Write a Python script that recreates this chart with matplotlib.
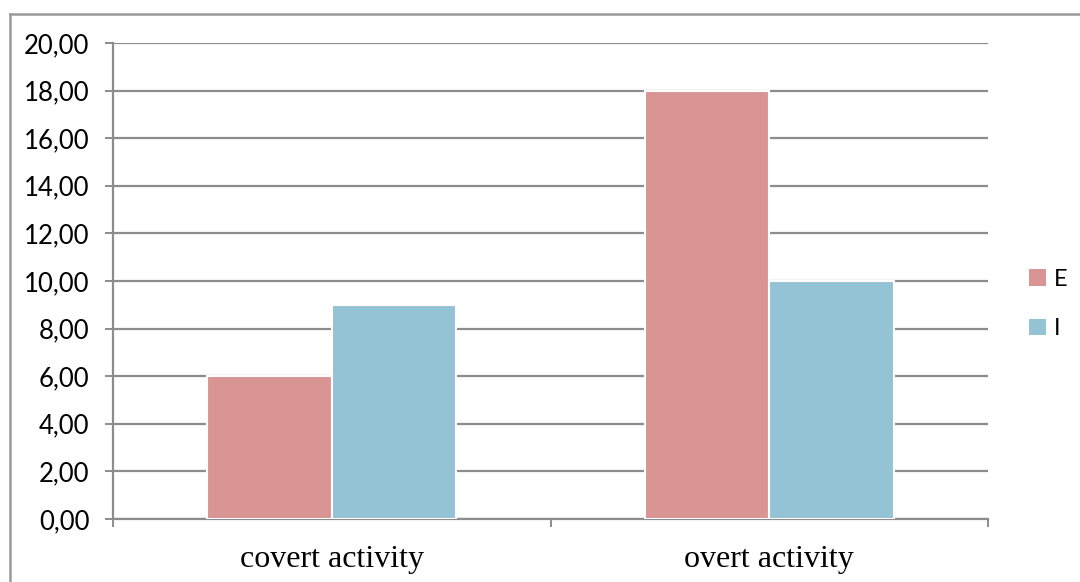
import matplotlib
matplotlib.use("Agg")
import matplotlib.pyplot as plt
from matplotlib.lines import Line2D
from matplotlib.patches import Patch
import numpy as np

categories = ["covert activity", "overt activity"]
series_names = ["E", "I"]
values_e = [6.0, 18.0]
values_i = [9.0, 10.0]
y_ticks = [0, 2, 4, 6, 8, 10, 12, 14, 16, 18, 20]

color_e = "#D99594"
color_i = "#93C3D5"
grid_color = "#8c8c8c"

fig = plt.figure(figsize=(10.8, 5.82), dpi=100)
ax = fig.add_axes([113 / 1080, 63 / 582, 875 / 1080, 476 / 582])

x = np.arange(len(categories))
w = 0.285
ax.bar(x - w / 2, values_e, w, color=color_e, edgecolor="white", linewidth=1.5, zorder=3)
ax.bar(x + w / 2, values_i, w, color=color_i, edgecolor="white", linewidth=1.5, zorder=3)

ax.set_xlim(-0.5, len(categories) - 0.5)
ax.set_ylim(0, 20)

# value axis
ax.set_yticks(y_ticks)
ax.set_yticklabels([f"{v:.2f}".replace(".", ",") for v in y_ticks],
                   fontfamily="Lato", fontsize=18.5)
ax.yaxis.grid(True, color=grid_color, linewidth=1.6, zorder=0)
ax.tick_params(axis="y", length=6, width=1.4, color=grid_color, pad=11)

# category axis: labels at centres, tick marks at the boundaries
ax.set_xticks(x)
ax.set_xticklabels(categories, fontfamily="Liberation Serif", fontsize=23)
ax.tick_params(axis="x", which="major", length=0, pad=19)
ax.set_xticks(np.arange(-0.5, len(categories)), minor=True)
ax.tick_params(axis="x", which="minor", length=6, width=1.4, color=grid_color)

for side in ["top", "right"]:
    ax.spines[side].set_visible(False)
for side in ["left", "bottom"]:
    ax.spines[side].set_color(grid_color)
    ax.spines[side].set_linewidth(1.6)

handles = [Patch(facecolor=color_e, edgecolor="none"),
           Patch(facecolor=color_i, edgecolor="none")]
leg = fig.legend(handles, series_names, loc="center left",
                 bbox_to_anchor=(1008 / 1080, 1 - 304 / 582),
                 frameon=False, handlelength=0.7, handleheight=0.7,
                 handletextpad=0.35, labelspacing=1.2,
                 prop={"family": "Lato", "size": 17})

# chart area border
fig.add_artist(Line2D([10 / 1080, 10 / 1080], [0, 1 - 14 / 582],
                      transform=fig.transFigure, color="#999999", linewidth=1.8))
fig.add_artist(Line2D([10 / 1080, 1], [1 - 14 / 582, 1 - 14 / 582],
                      transform=fig.transFigure, color="#999999", linewidth=1.8))

fig.savefig("out.png", dpi=100)
